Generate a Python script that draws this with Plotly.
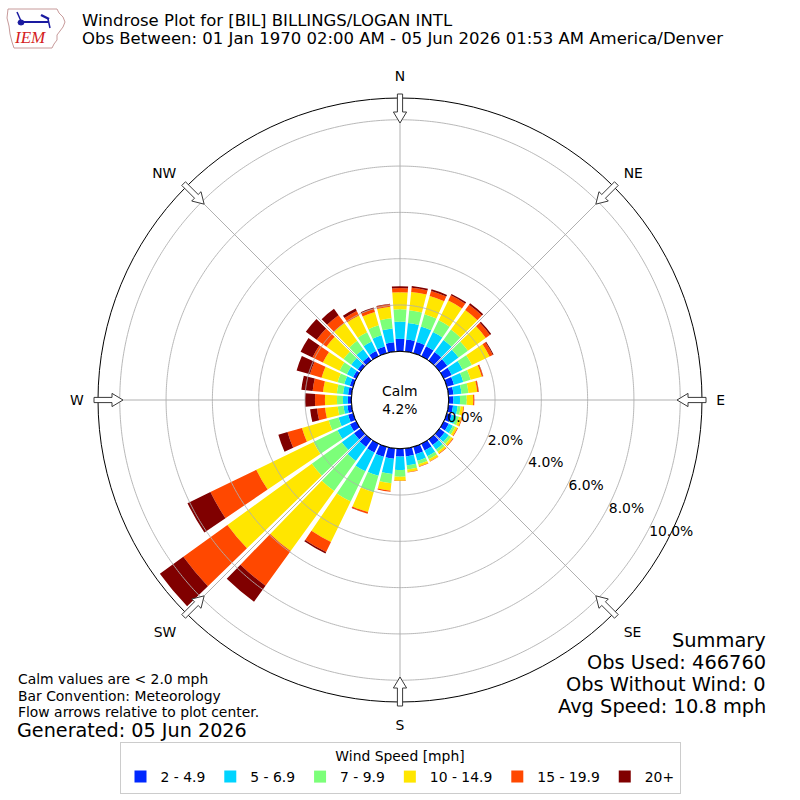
import numpy as np
import plotly.graph_objects as go

# ---------------- data ----------------
directions = list(range(0, 360, 10))
speed_bins = ["2 - 4.9", "5 - 6.9", "7 - 9.9", "10 - 14.9", "15 - 19.9", "20+"]
colors = ["#0028ff", "#00d4ff", "#7cff79", "#ffe600", "#ff4800", "#800000"]

blue = [.54, .52, .50, .48, .45, .42, .38, .32, .22, .20,
        .20, .22, .24, .28, .30, .32, .33, .35, .34,
        .45, .45, .42, .40, .35, .30, .23, .18, .15,
        .15, .15, .15, .15, .20, .25, .30, .40]
cyan = [.74, .72, .70, .68, .65, .60, .52, .42, .35, .29,
        .20, .20, .20, .22, .24, .28, .30, .38, .58,
        .66, .85, .90, .75, .65, .60, .43, .17, .21,
        .22, .25, .30, .35, .40, .45, .50, .60]
green = [.54, .55, .55, .56, .55, .50, .45, .33, .30, .29,
         .13, .13, .11, .12, .12, .14, .15, .18, .29,
         .40, .74, 1.45, 1.60, 1.60, 1.15, .44, .25, .26,
         .27, .30, .35, .41, .45, .45, .45, .45]
yellow = [.73, .80, .82, .95, 1.05, .95, .85, .50, .38, .28,
          .12, .12, .10, .10, .09, .10, .10, .12, .17,
          .33, .89, 1.95, 3.20, 4.50, 2.75, 1.20, .55, .52,
          .60, .72, .80, .91, .95, .80, .60, .50]
orange = [.18, .18, .22, .25, .28, .22, .15, .06, .06, .05,
          .03, .03, .03, .03, .03, .02, .02, .02, .02,
          .04, .07, .48, 1.85, 2.35, 2.20, .65, .35, .43,
          .45, .52, .50, .52, .42, .22, .15, .10]
darkred = [.08, .08, .08, .07, .08, .07, .04, .01, .01, 0,
           0, 0, 0, 0, 0, 0, 0, 0, 0,
           0, .01, .07, .85, 1.25, 1.10, .41, .30, .43,
           .49, .60, .57, .58, .34, .12, .05, .03]
series = [blue, cyan, green, yellow, orange, darkred]

radial_ticks = [0, 2, 4, 6, 8, 10]
radial_ticktext = ["0.0%", "2.0%", "4.0%", "6.0%", "8.0%", "10.0%"]
compass_vals = [0, 45, 90, 135, 180, 225, 270, 315]
compass_text = ["N", "NE", "E", "SE", "S", "SW", "W", "NW"]

calm_pct = 4.2
title1 = "Windrose Plot for [BIL] BILLINGS/LOGAN INTL"
title2 = "Obs Between: 01 Jan 1970 02:00 AM - 05 Jun 2026 01:53 AM America/Denver"
summary = ["Summary", "Obs Used: 466760", "Obs Without Wind: 0", "Avg Speed: 10.8 mph"]
notes = ["Calm values are < 2.0 mph", "Bar Convention: Meteorology",
         "Flow arrows relative to plot center."]
generated = "Generated: 05 Jun 2026"

# ---------------- layout geometry ----------------
W = H = 800
CX, CY = 400, 400
R_OUT = 302.0
R_HOLE = 48.7
RMAX = 10.94
FONT = "DejaVu Sans"
RAX_ANGLE = -29.4

fig = go.Figure()

for name, vals, col in zip(speed_bins, series, colors):
    fig.add_trace(go.Barpolar(
        r=vals, theta=directions, width=[8.2] * len(directions),
        name=name, marker=dict(color=col, line=dict(width=0)),
        hoverinfo="skip"))

# radial grid circles drawn above the bars
circ_theta = np.linspace(0, 360, 721)
for rv in radial_ticks[1:]:
    fig.add_trace(go.Scatterpolar(
        r=[rv] * len(circ_theta), theta=circ_theta, mode="lines",
        line=dict(color="#b0b0b0", width=0.9), showlegend=False, hoverinfo="skip"))
# inner spine
fig.add_trace(go.Scatterpolar(
    r=[0] * len(circ_theta), theta=circ_theta, mode="lines",
    line=dict(color="black", width=1), showlegend=False, hoverinfo="skip"))

# ---------------- flow arrows (decoration) ----------------
def px2paper(px, py):
    return px / W, 1 - py / H

shapes = []
for th in compass_vals:
    t = np.radians(th)
    pts_rt = [(306, -2.6), (288, -2.6), (288, -6.6), (277, 0), (288, 6.6), (288, 2.6), (306, 2.6)]
    path = ""
    for i, (rr, tt) in enumerate(pts_rt):
        px = CX + rr * np.sin(t) + tt * np.cos(t)
        py = CY - rr * np.cos(t) + tt * np.sin(t)
        x, y = px2paper(px, py)
        path += ("M" if i == 0 else "L") + f"{x:.5f},{y:.5f} "
    path += "Z"
    shapes.append(dict(type="path", path=path, xref="paper", yref="paper",
                       line=dict(color="#3a3a3a", width=1), fillcolor="white", layer="above"))

# ---------------- IEM logo (approximation) ----------------
iowa = [(8, 9), (57, 9), (59, 13), (63, 17), (65, 22), (63, 27), (60, 31), (57, 35),
        (57, 40), (54, 44), (52, 48), (14, 48), (12, 42), (10, 34), (9, 26), (7, 18)]
p = ""
for i, (x0, y0) in enumerate(iowa):
    x, y = px2paper(x0, y0)
    p += ("M" if i == 0 else "L") + f"{x:.5f},{y:.5f} "
p += "Z"
shapes.append(dict(type="path", path=p, xref="paper", yref="paper",
                   line=dict(color="#c79a9a", width=1), fillcolor="white"))
for (a, b, c, d, wdt) in [(21, 22, 48, 22, 2), (17, 12, 21, 21, 1.5), (41, 15, 49, 19, 2.5), (48, 19, 50, 28, 1.5)]:
    xa, ya = px2paper(a, b)
    xb, yb = px2paper(c, d)
    shapes.append(dict(type="line", x0=xa, y0=ya, x1=xb, y1=yb, xref="paper", yref="paper",
                       line=dict(color="#1a1aa0", width=wdt)))
xa, ya = px2paper(18, 20)
xb, yb = px2paper(24, 25)
shapes.append(dict(type="circle", x0=xa, y0=ya, x1=xb, y1=yb, xref="paper", yref="paper",
                   line=dict(color="#1a1aa0", width=1), fillcolor="#1a1aa0"))

annotations = []
annotations.append(dict(text="<i>IEM</i>", x=30 / W, y=1 - 38 / H, xref="paper", yref="paper",
                        showarrow=False, font=dict(family="Liberation Serif", size=17, color="#d42020"),
                        xanchor="center", yanchor="middle"))

# titles
annotations.append(dict(text=title1, x=80 / W, y=1 - 20 / H, xref="paper", yref="paper",
                        showarrow=False, xanchor="left", yanchor="middle",
                        font=dict(family=FONT, size=16.5, color="black")))
annotations.append(dict(text=title2, x=80 / W, y=1 - 38.5 / H, xref="paper", yref="paper",
                        showarrow=False, xanchor="left", yanchor="middle",
                        font=dict(family=FONT, size=16.5, color="black")))
# calm
annotations.append(dict(text=f"Calm<br>{calm_pct:.1f}%", x=0.5, y=0.5, xref="paper", yref="paper",
                        showarrow=False, xanchor="center", yanchor="middle",
                        font=dict(family=FONT, size=13.9, color="black")))
# notes
for i, t in enumerate(notes):
    annotations.append(dict(text=t, x=16 / W, y=1 - (679 + 16.5 * i) / H, xref="paper", yref="paper",
                            showarrow=False, xanchor="left", yanchor="middle",
                            font=dict(family=FONT, size=13.9, color="black")))
annotations.append(dict(text=generated, x=15 / W, y=1 - 730 / H, xref="paper", yref="paper",
                        showarrow=False, xanchor="left", yanchor="middle",
                        font=dict(family=FONT, size=19.2, color="black")))
for i, t in enumerate(summary):
    annotations.append(dict(text=t, x=768 / W, y=1 - (640 + 22 * i) / H, xref="paper", yref="paper",
                            showarrow=False, xanchor="right", yanchor="middle",
                            font=dict(family=FONT, size=19.4, color="black")))

dom = [(CX - R_OUT) / W, (CX + R_OUT) / W]
fig.update_layout(
    width=W, height=H, margin=dict(l=0, r=0, t=0, b=0),
    paper_bgcolor="white", plot_bgcolor="white",
    font=dict(family=FONT, size=13.9, color="black"),
    polar=dict(
        domain=dict(x=dom, y=dom),
        hole=R_HOLE / R_OUT,
        bgcolor="white",
        barmode="stack",
        radialaxis=dict(range=[0, RMAX], tickvals=radial_ticks, ticktext=radial_ticktext,
                        showgrid=False, showline=False, ticks="", angle=RAX_ANGLE,
                        tickangle=RAX_ANGLE,
                        side="counterclockwise", tickfont=dict(size=13.9, color="black")),
        angularaxis=dict(rotation=90, direction="clockwise", tickvals=compass_vals,
                         ticktext=compass_text, showgrid=True, gridcolor="#b0b0b0", gridwidth=0.9,
                         showline=True, linecolor="black", linewidth=1,
                         ticks="outside", ticklen=11, tickcolor="rgba(0,0,0,0)",
                         tickfont=dict(size=13.9, color="black")),
    ),
    legend=dict(orientation="h", x=0.5, xanchor="center", y=1 - 742 / H, yanchor="top",
                title=dict(text="Wind Speed [mph]", side="top center", font=dict(size=13.9)),
                bordercolor="#cccccc", borderwidth=1, bgcolor="white",
                font=dict(size=13.9), itemwidth=30),
    shapes=shapes, annotations=annotations,
)

fig.write_html("out.html")
